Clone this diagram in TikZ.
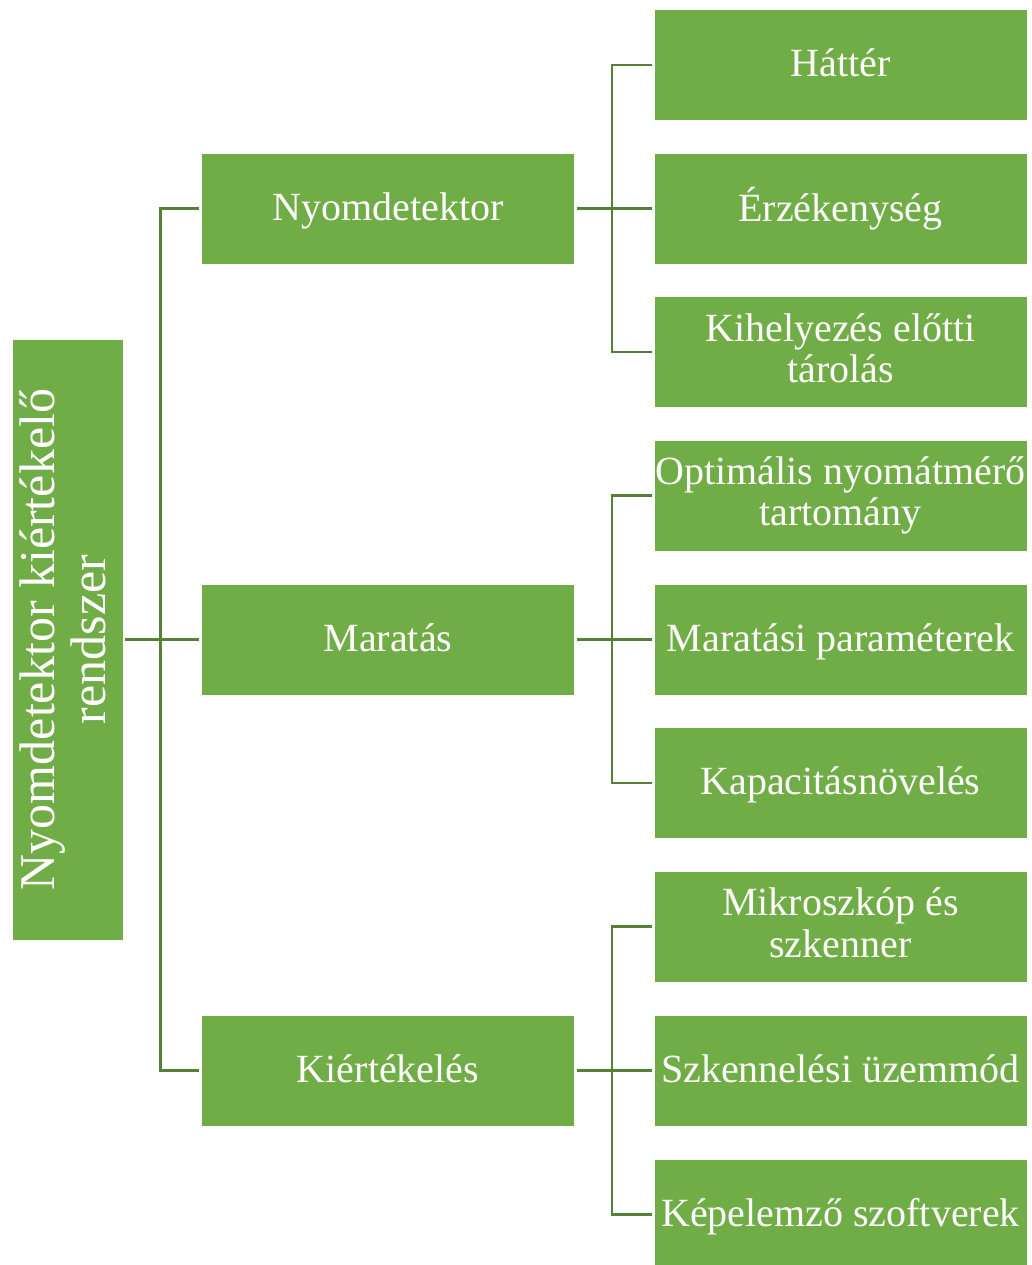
\documentclass[tikz,border=0pt]{standalone}
\usepackage{fontspec}
\setmainfont{Liberation Serif}
\definecolor{boxgreen}{HTML}{70AD47}
\definecolor{linegreen}{HTML}{548235}
\newcommand{\lnstrut}{\rule[-0.2em]{0pt}{1em}}
\tikzset{
  greenbox/.style={rectangle, fill=boxgreen, draw=white, line width=0.8pt, text=white,
    inner sep=0pt, align=center, minimum width=373pt, minimum height=111pt,
    font=\fontsize{40}{41.4}\selectfont,
    execute at begin node=\lnstrut, execute at end node=\lnstrut},
  rootbox/.style={greenbox, rotate=90, minimum width=601pt, minimum height=111pt,
    font=\fontsize{50}{51.7}\selectfont},
  branch/.style={linegreen, line width=2.6pt, shorten <=2pt, shorten >=2pt}
}
\begin{document}
\begin{tikzpicture}[x=1pt, y=-1pt]
            \useasboundingbox (0,0) rectangle (1032,1265);

            % Gyoker
            \node[rootbox] (root) at (67.5, 639.5) {Nyomdetektor kiértékelő\\rendszer};

            % Elso szint
            \node[greenbox] (nyomdet) at (388, 208.5) {Nyomdetektor};
            \node[greenbox] (marat) at (388, 639.5) {Maratás};
            \node[greenbox] (kiert) at (388, 1070.5) {Kiértékelés};

            % Masodik szint: Nyomdetektor
            \node[greenbox] (hatter) at (840.5, 65) {Háttér};
            \node[greenbox] (erzek) at (840.5, 208.5) {Érzékenység};
            \node[greenbox] (tarol) at (840.5, 352) {Kihelyezés előtti\\tárolás};

            % Masodik szint: Maratás
            \node[greenbox] (optim) at (840.5, 495.5) {Optimális nyomátmérő\\tartomány};
            \node[greenbox] (param) at (840.5, 639.5) {Maratási paraméterek};
            \node[greenbox] (kapac) at (840.5, 783) {Kapacitásnövelés};

            % Masodik szint: Kiértékelés
            \node[greenbox] (mikro) at (840.5, 926.5) {Mikroszkóp és\\szkenner};
            \node[greenbox] (szken) at (840.5, 1070.5) {Szkennelési üzemmód};
            \node[greenbox] (kepel) at (840.5, 1214.5) {Képelemző szoftverek};

            % Osszekotok
            \foreach \c in {nyomdet, marat, kiert}
                \draw[branch] (root.south) -- ++(37,0) |- (\c.west);
            \foreach \c in {hatter, erzek, tarol}
                \draw[branch] (nyomdet.east) -- ++(37,0) |- (\c.west);
            \foreach \c in {optim, param, kapac}
                \draw[branch] (marat.east) -- ++(37,0) |- (\c.west);
            \foreach \c in {mikro, szken, kepel}
                \draw[branch] (kiert.east) -- ++(37,0) |- (\c.west);
\end{tikzpicture}
\end{document}
